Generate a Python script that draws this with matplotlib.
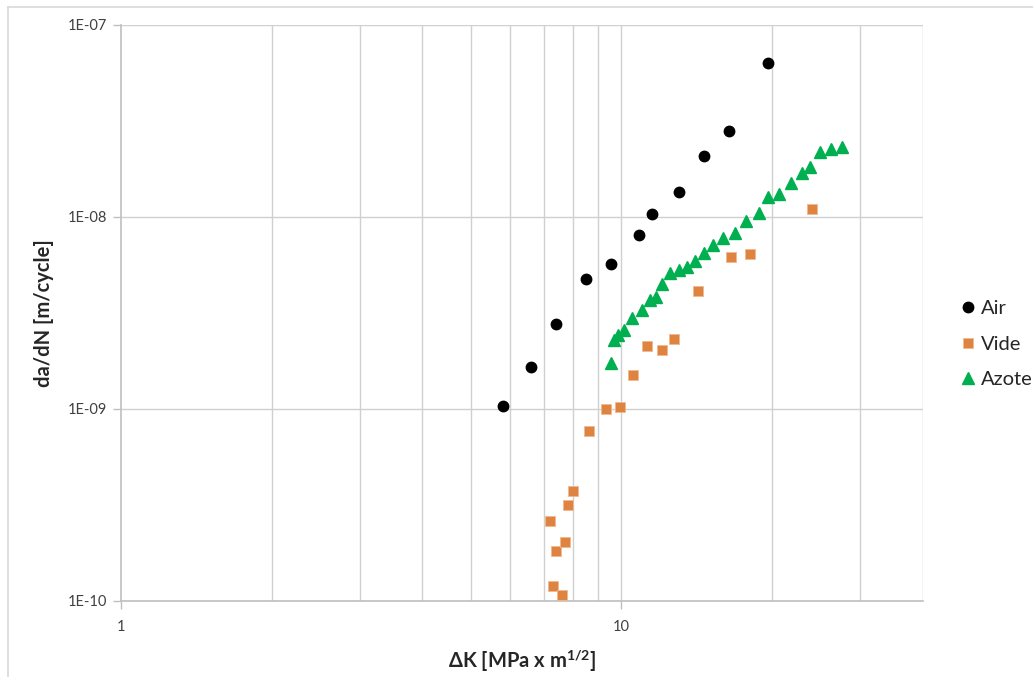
import matplotlib
matplotlib.use("Agg")
import matplotlib.pyplot as plt
from matplotlib.ticker import FixedLocator, FuncFormatter, NullFormatter
from matplotlib.lines import Line2D

plt.rcParams['font.family'] = ['Lato', 'DejaVu Sans']
plt.rcParams['mathtext.fontset'] = 'custom'
plt.rcParams['mathtext.rm'] = 'Lato:bold'
plt.rcParams['mathtext.bf'] = 'Lato:bold'

# Air
air_dk = [5.80, 6.61, 7.42, 8.51, 9.52, 10.83, 11.53, 13.02, 14.66, 16.44, 19.68]
air_dadn = [1.035e-9, 1.66e-9, 2.77e-9, 4.73e-9, 5.66e-9, 8.07e-9, 1.034e-8,
            1.35e-8, 2.07e-8, 2.80e-8, 6.34e-8]

# Vide
vide_dk = [7.21, 7.31, 7.41, 7.62, 7.72, 7.81, 8.02, 8.62, 9.32, 9.92, 10.53,
           11.24, 12.04, 12.75, 14.26, 16.57, 18.06, 24.10]
vide_dadn = [2.61e-10, 1.19e-10, 1.82e-10, 1.07e-10, 2.02e-10, 3.17e-10, 3.75e-10,
             7.67e-10, 1.00e-9, 1.027e-9, 1.51e-9, 2.12e-9, 2.03e-9, 2.31e-9,
             4.12e-9, 6.20e-9, 6.40e-9, 1.10e-8]

# Azote
azote_dk = [9.52, 9.65, 9.85, 10.11, 10.52, 11.00, 11.39, 11.73, 12.08, 12.53,
            13.02, 13.53, 14.06, 14.61, 15.26, 16.00, 16.85, 17.78, 18.82, 19.65,
            20.68, 21.88, 23.01, 23.88, 24.97, 26.27, 27.67]
azote_dadn = [1.74e-9, 2.28e-9, 2.42e-9, 2.57e-9, 2.97e-9, 3.27e-9, 3.69e-9, 3.84e-9,
              4.47e-9, 5.12e-9, 5.28e-9, 5.50e-9, 5.91e-9, 6.46e-9, 7.11e-9, 7.73e-9,
              8.26e-9, 9.54e-9, 1.050e-8, 1.263e-8, 1.314e-8, 1.494e-8, 1.697e-8,
              1.824e-8, 2.183e-8, 2.246e-8, 2.317e-8]

x_major = [1, 10]
x_grid = [2, 3, 4, 5, 6, 7, 8, 9, 10, 20, 30, 40]
y_major = [1e-10, 1e-9, 1e-8, 1e-7]
y_labels = ["1E-10", "1E-09", "1E-08", "1E-07"]

W, H = 1033, 677
fig = plt.figure(figsize=(W / 100, H / 100), dpi=100)
ax = fig.add_axes([121 / W, 1 - 601 / H, (922.5 - 121) / W, (601 - 24.7) / H])

ax.set_xscale('log')
ax.set_yscale('log')
ax.set_xlim(1, 40)
ax.set_ylim(1e-10, 1e-7)

grid_c = '#D0D0D0'
for gx in x_grid:
    ax.axvline(gx, color=grid_c, lw=1.0, zorder=0)
for gy in y_major:
    ax.axhline(gy, color=grid_c, lw=1.0, zorder=0)

ax.plot(air_dk, air_dadn, 'o', color='black', markersize=7.5, mec='black', label='Air', zorder=3)
ax.plot(vide_dk, vide_dadn, 's', color='#DF8340', markersize=7.2, mec='#F0B990', mew=0.6,
        label='Vide', zorder=3)
ax.plot(azote_dk, azote_dadn, '^', color='#00B050', markersize=8.5, mec='#00B050',
        label='Azote', zorder=4)

ax.xaxis.set_major_locator(FixedLocator(x_major))
ax.xaxis.set_minor_locator(FixedLocator([]))
ax.xaxis.set_major_formatter(FuncFormatter(lambda v, p: "%d" % round(v)))
ax.xaxis.set_minor_formatter(NullFormatter())
ax.yaxis.set_major_locator(FixedLocator(y_major))
ax.yaxis.set_minor_locator(FixedLocator([]))
ax.set_yticklabels(y_labels)

for s in ['top', 'right']:
    ax.spines[s].set_visible(False)
for s in ['left', 'bottom']:
    ax.spines[s].set_color('#BFBFBF')
    ax.spines[s].set_linewidth(1.2)

ax.tick_params(axis='both', which='major', direction='out', length=6, width=1,
               color='#BFBFBF', labelsize=10.5, labelcolor='#404040')
ax.tick_params(axis='x', pad=8)
ax.tick_params(axis='y', pad=4)

ax.set_xlabel('ΔK [MPa x m$^{\\mathbf{1/2}}$]', fontsize=14.5, fontweight='bold',
              color='#262626', labelpad=9)
ax.set_ylabel('da/dN [m/cycle]', fontsize=14.5, fontweight='bold', color='#262626', labelpad=10)

leg = fig.legend(loc='center left', bbox_to_anchor=(950 / W, 1 - 344 / H), frameon=False,
                 fontsize=14.5, handletextpad=0.15, labelspacing=0.9, handlelength=1.0,
                 borderaxespad=0)
for t in leg.get_texts():
    t.set_color('#262626')

# chart border
bc = '#D9D9D9'
fig.add_artist(Line2D([8 / W, 8 / W], [0, 1 - 7 / H], transform=fig.transFigure, color=bc, lw=1.2))
fig.add_artist(Line2D([8 / W, 1], [1 - 7 / H, 1 - 7 / H], transform=fig.transFigure, color=bc, lw=1.2))

fig.savefig('out.png', dpi=100)
